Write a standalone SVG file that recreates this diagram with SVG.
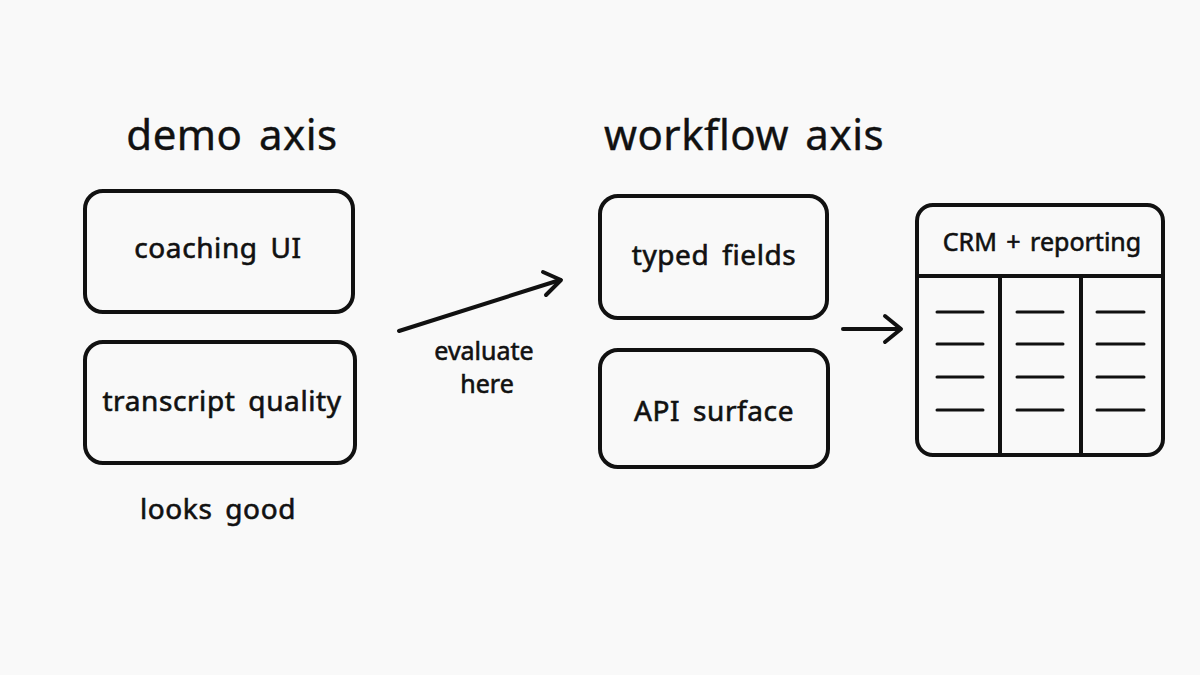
<svg xmlns="http://www.w3.org/2000/svg" width="1200" height="675" viewBox="0 0 1200 675">
<style>
text{font-family:"Noto Sans","Liberation Sans",sans-serif;fill:#111;stroke:#111;stroke-width:0.6;text-anchor:middle;word-spacing:5px}
.t{font-size:42px;letter-spacing:0.5px;stroke-width:0.4}
.l{font-size:28px;letter-spacing:0.6px}
.c{font-size:25px;word-spacing:3px}
.s{font-size:25px}
.box{fill:none;stroke:#111;stroke-width:4;stroke-linecap:round;stroke-linejoin:round}
.ln{fill:none;stroke:#111;stroke-width:4;stroke-linecap:round;stroke-linejoin:round}
.d{stroke:#111;stroke-width:3;stroke-linecap:round}
</style>
<rect width="1200" height="675" fill="#f9f9f9"/>
<g id="demo-title"><text class="t" x="232" y="150">demo axis</text></g>
<g id="coaching-ui"><rect class="box" x="85" y="191" width="268" height="121" rx="18"/><text class="l" x="218" y="258">coaching UI</text></g>
<g id="transcript-quality"><rect class="box" x="85" y="342" width="270" height="121" rx="18"/><text class="l" x="222" y="411">transcript quality</text></g>
<g id="looks-good"><text class="l" x="218" y="519">looks good</text></g>
<g id="workflow-title"><text class="t" x="744" y="150">workflow axis</text></g>
<g id="typed-fields"><rect class="box" x="600" y="196" width="227" height="122" rx="18"/><text class="l" x="714" y="265">typed fields</text></g>
<g id="api-surface"><rect class="box" x="600" y="350" width="228" height="117" rx="18"/><text class="l" x="714" y="421">API surface</text></g>
<g id="crm-reporting">
<rect class="box" x="917" y="205" width="246" height="250" rx="16"/>
<line class="ln" x1="917" y1="276" x2="1163" y2="276"/>
<line class="ln" x1="1000" y1="276" x2="1000" y2="455"/>
<line class="ln" x1="1081" y1="276" x2="1081" y2="455"/>
<text class="c" x="1042" y="251">CRM + reporting</text>
<g class="d">
<line x1="937" y1="312" x2="983" y2="312"/><line x1="1017" y1="312" x2="1063" y2="312"/><line x1="1097" y1="312" x2="1144" y2="312"/>
<line x1="937" y1="344" x2="983" y2="344"/><line x1="1017" y1="344" x2="1063" y2="344"/><line x1="1097" y1="344" x2="1144" y2="344"/>
<line x1="937" y1="377" x2="983" y2="377"/><line x1="1017" y1="377" x2="1063" y2="377"/><line x1="1097" y1="377" x2="1144" y2="377"/>
<line x1="937" y1="410" x2="983" y2="410"/><line x1="1017" y1="410" x2="1063" y2="410"/><line x1="1097" y1="410" x2="1144" y2="410"/>
</g>
</g>
<g id="connectors">
<line class="ln" x1="399" y1="331" x2="560" y2="280"/>
<polyline class="ln" points="543,272 561,280 546,295"/>
<text class="s" x="484" y="360">evaluate</text>
<text class="s" x="487" y="393">here</text>
<line class="ln" x1="843" y1="329" x2="900" y2="329"/>
<polyline class="ln" points="885,316 901,329 885,342"/>
</g>
</svg>
